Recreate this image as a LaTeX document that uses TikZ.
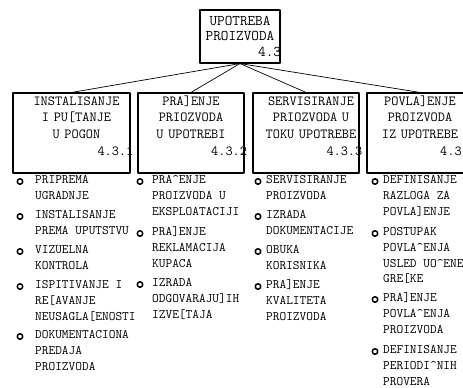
\documentclass[tikz,border=0pt]{standalone}
\usetikzlibrary{positioning}
\begin{document}
\begin{tikzpicture}[x=1pt,y=-1pt,line join=round,line cap=round,
  font=\fontsize{13}{15.8}\selectfont\ttfamily]
  \tikzset{
    okvir/.style={draw,line width=1.1pt,minimum width=106pt,minimum height=80pt,inner sep=0pt},
    naslov/.style={align=center,inner sep=0pt,text width=106pt,
      font=\fontsize{13.9}{16.7}\selectfont\ttfamily},
    stavka/.style={anchor=north west,align=left,inner sep=0pt},
    tacka/.style={circle,draw,line width=1.5pt,minimum size=5.5pt,inner sep=0pt},
  }
  \def\vrh{\vphantom{[}}% ista visina prvog reda
  \useasboundingbox (0,0) rectangle (463,388);
  \clip (0,0) rectangle (463,388);
  % glavni blok
  \node[okvir,minimum width=80pt,minimum height=53pt] (glavni) at (240,36.5) {};
  \node[naslov,text width=80pt,font=\fontsize{14.8}{15.8}\selectfont\ttfamily,
    below=5.1pt of glavni.north] (glavni-t)
    {\vrh UPOTREBA\\PROIZVODA\\\hfill 4.3\kern-1pt};
  % podblokovi
  \node[okvir,minimum width=117pt] (s1) at (71.5,133) {};
  \node[okvir] (s2) at (191,133) {};
  \node[okvir] (s3) at (306,133) {};
  \node[okvir] (s4) at (420,133) {};
  \node[naslov,text width=117pt,below=2.8pt of s1.north,xshift=5pt] (s1-t)
    {\vrh INSTALISANJE\\I PU[TANJE\\U POGON\\\hfill 4.3.1\kern1.7pt};
  \node[naslov,below=2.8pt of s2.north] (s2-t)
    {\vrh PRA]ENJE\\PRIOZVODA\\U UPOTREBI\\\hfill 4.3.2\kern-3pt};
  \node[naslov,below=2.8pt of s3.north,xshift=5pt] (s3-t)
    {\vrh SERVISIRANJE\\PRIOZVODA U\\TOKU UPOTREBE\\\hfill 4.3.3\kern1.7pt};
  \node[naslov,below=2.8pt of s4.north] (s4-t)
    {\vrh POVLA]ENJE\\PROIZVODA\\IZ UPOTREBE\\\hfill 4.3.4\kern-3pt};
  \foreach \s in {s1,s2,s3,s4}
    \draw[line width=0.7pt] (glavni.south) -- (\s.north);
  % aktivnosti po kolonama
  \foreach \y/\t [count=\i] in {180/{PRIPREMA\\UGRADNJE},
      215/{INSTALISANJE\\PREMA UPUTSTVU},250/{VIZUELNA\\KONTROLA},
      285/{ISPITIVANJE I\\RE[AVANJE\\NEUSAGLA[ENOSTI},
      335/{DOKUMENTACIONA\\PREDAJA\\PROIZVODA}}{
    \node[stavka] (p1-\i) at (35,{\y-5.8}) {\vrh\t};
    \node[tacka] (o1-\i) at (20,{\y+1.5}) {};
  }
  \foreach \y/\t [count=\i] in {180/{PRA\textasciicircum{}ENJE\\PROIZVODA U\\EKSPLOATACIJI},
      232/{PRA]ENJE\\REKLAMACIJA\\KUPACA},283/{IZRADA\\ODGOVARAJU]IH\\IZVE[TAJA}}{
    \node[stavka] (p2-\i) at (152,{\y-5.8}) {\vrh\t};
    \node[tacka] (o2-\i) at (140,{\y+1.5}) {};
  }
  \foreach \y/\t [count=\i] in {180/{SERVISIRANJE\\PROIZVODA},
      215/{IZRADA\\DOKUMENTACIJE},250/{OBUKA\\KORISNIKA},
      285/{PRA]ENJE\\KVALITETA\\PROIZVODA}}{
    \node[stavka] (p3-\i) at (266,{\y-5.8}) {\vrh\t};
    \node[tacka] (o3-\i) at (258,{\y+1.5}) {};
  }
  \foreach \y/\t [count=\i] in {180/{DEFINISANJE\\RAZLOGA ZA\\POVLA]ENJE},
      232/{POSTUPAK\\POVLA\textasciicircum{}ENJA\\USLED UO\textasciicircum{}ENE\\GRE[KE},
      298/{PRA]ENJE\\POVLA\textasciicircum{}ENJA\\PROIZVODA},
      350/{DEFINISANJE\\PERIODI\textasciicircum{}NIH\\PROVERA}}{
    \node[stavka] (p4-\i) at (383,{\y-5.8}) {\vrh\t};
    \node[tacka] (o4-\i) at (375,{\y+1.5}) {};
  }
\end{tikzpicture}
\end{document}
